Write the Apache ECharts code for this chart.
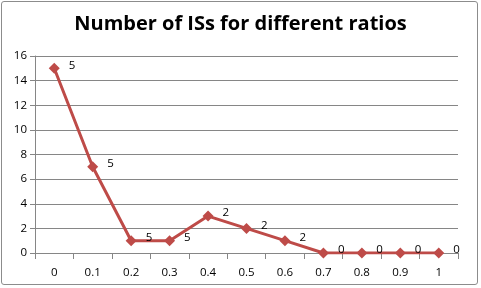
<!DOCTYPE html>
<html><head><meta charset="utf-8">
<script src="https://cdn.jsdelivr.net/npm/echarts@6/dist/echarts.min.js"></script>
<style>html,body{margin:0;padding:0;background:#fff}#c{width:481px;height:288px}
#frame{position:absolute;left:1px;top:1px;width:477px;height:284px;border:1px solid #8c8c8c;border-radius:3px;box-sizing:border-box;pointer-events:none}</style>
</head><body><div id="c"></div><div id="frame"></div>
<script>
const titleText = 'Number of ISs for different ratios';
const categories = ['0','0.1','0.2','0.3','0.4','0.5','0.6','0.7','0.8','0.9','1'];
const values = [15, 7, 1, 1, 3, 2, 1, 0, 0, 0, 0];
const labels = ['5','5','5','5','2','2','2','0','0','0','0'];
const yTicks = {min: 0, max: 16, interval: 2};

const chart = echarts.init(document.getElementById('c'));
chart.setOption({
  animation: false,
  title: {text: titleText, left: 'center', top: 9,
    textStyle: {fontFamily: 'Open Sans', fontWeight: 'bold', fontSize: 20, color: '#000'}},
  grid: {left: 35, right: 23, top: 56, bottom: 35},
  xAxis: {type: 'category', data: categories, boundaryGap: true,
    axisLine: {lineStyle: {color: '#868686'}},
    axisTick: {show: true, alignWithLabel: false, length: 6, lineStyle: {color: '#868686'}},
    axisLabel: {color: '#000', fontFamily: 'Open Sans', fontSize: 11.5, margin: 14}},
  yAxis: {type: 'value', min: yTicks.min, max: yTicks.max, interval: yTicks.interval,
    axisLine: {show: true, lineStyle: {color: '#868686'}},
    axisTick: {show: true, length: 5, inside: false, lineStyle: {color: '#868686'}},
    splitLine: {lineStyle: {color: '#868686'}},
    axisLabel: {color: '#000', fontFamily: 'Open Sans', fontSize: 11.5, margin: 8}},
  series: [{
    type: 'line', data: values,
    symbol: 'diamond', symbolSize: 11,
    lineStyle: {color: '#BE4B48', width: 3},
    itemStyle: {color: '#BE4B48'},
    label: {show: true, position: 'right', distance: 9, offset: [0, -3],
      fontFamily: 'Open Sans', fontSize: 11.5, color: '#000',
      formatter: p => labels[p.dataIndex]}
  }]
});
</script></body></html>
